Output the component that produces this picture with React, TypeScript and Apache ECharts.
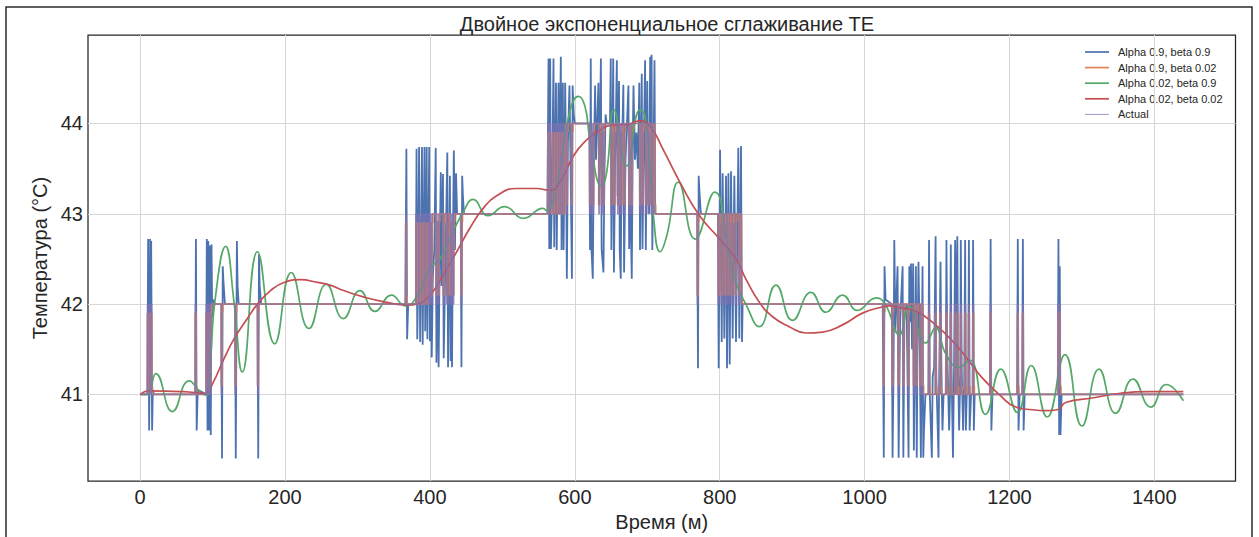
import React, { useEffect, useRef } from "react";
import * as echarts from "echarts";

const FONT = "'Liberation Sans', Arial, Helvetica, sans-serif";
const TEXT = "#262626";

const TITLE = "Двойное экспоненциальное сглаживание TE";
const X_NAME = "Время (м)";
const Y_NAME = "Температура (°C)";
const X_TICKS = [0, 200, 400, 600, 800, 1000, 1200, 1400];
const Y_TICKS = [41, 42, 43, 44];
const SERIES_NAMES = [
  "Alpha 0.9, beta 0.9",
  "Alpha 0.9, beta 0.02",
  "Alpha 0.02, beta 0.9",
  "Alpha 0.02, beta 0.02",
  "Actual",
];
const COLORS = ["#4c72b0", "#dd8452", "#55a868", "#c44e52", "#8172b3"];

// Alpha 0.9, beta 0.9 (spikes of the forecast)
const blueSeries: [number, number][] = [
  [0, 41], [10, 41], [11, 42.72], [12.4, 40.6], [13.2, 41.3], [13.8, 42.72], [14.5, 41.6], [15.2, 42.7], [16.5, 40.6], [17.5, 41.05], [19, 41],
  [76, 41], [77, 42.72], [78, 40.6], [79.5, 41.05], [91, 41], [92, 42.72], [93, 40.6], [94, 42.7], [95, 40.6], [96, 42.65], [97.5, 40.55], [98.5, 42.66], [99.5, 41.85], [101, 42.05], [103, 42],
  [112, 42], [113, 40.29], [114, 42.42], [115, 42.25], [117, 42], [131, 42], [132, 40.29], [133.5, 42.7], [134.5, 42.2], [136, 42], [162, 42], [163, 40.29], [164, 42.55], [165, 42.2], [167, 42],
  [366, 42], [367.5, 43.72], [368.5, 41.61], [370, 42], [380.5, 42], [381.5, 43.72], [382.5, 41.61], [383.5, 42.1], [385, 43.74], [386.5, 41.58], [387.5, 42.3], [389, 43.74], [390, 41.55], [391, 42.5], [392.5, 43.74], [393.5, 41.7], [394.5, 42.6], [395.5, 43.74], [396.5, 41.61], [397.5, 42.4], [399, 43.74], [400, 41.59], [401, 42.6], [402.5, 41.41], [404, 42.3], [406, 42.6], [408, 43.73], [409, 41.35], [410.5, 42.5], [412, 41.3], [413.5, 42.6], [415, 43.46], [416, 42.2], [418, 43.44], [419, 41.4], [421, 42.3], [424, 43.68], [425, 41.3], [426.5, 42.5], [427.6, 43.42], [428.5, 41.37], [429.5, 42.4], [430.5, 41.3], [431.5, 42.5], [433, 43.7], [434.5, 42.6], [436, 43.45], [437.5, 43.0], [442.5, 43.0], [443.5, 41.3], [444.5, 43.42], [445.5, 43.2], [447, 43],
  [562, 43], [563.7, 44.72], [564.7, 42.61], [566, 44.72], [567, 42.61], [568.5, 43.2], [570.6, 44.72], [571.6, 42.63], [574, 44.45], [575, 42.6], [577.5, 44.45], [578.5, 43.3], [580.7, 44.74], [581.7, 42.6], [583.5, 44.45], [584.5, 42.6], [586.7, 44.45], [588, 43.5], [589, 42.28], [590.5, 43.8], [592.6, 44.42], [594, 43.6], [596, 42.28], [597, 44.42], [598.5, 44.1], [600, 44],
  [620, 44], [621, 42.6], [622, 44.72], [623, 42.61], [624.8, 42.28], [626, 43.5], [628, 44.42], [629.2, 43.6], [632.6, 44.45], [633.5, 43.2], [636, 44.72], [637, 42.61], [639.5, 42.35], [641, 43.5], [642.5, 44.1], [644, 44],
  [648.5, 44], [649.6, 44.72], [650.5, 42.6], [653, 44.72], [654, 42.35], [655.5, 43.5], [658, 44.7], [659, 43.2], [661, 44.47], [662, 42.6], [663.4, 42.28], [664.5, 43.5], [667, 44.43], [668, 42.35], [670, 43.6], [672, 44.0], [674, 44.42], [675, 42.61], [676.5, 43.3], [678.6, 42.28], [680, 43.8], [681, 44.42], [683, 43.6], [685, 43.9], [687, 43.5], [689, 44.45], [690, 42.6], [692.4, 44.55], [693.4, 42.61], [695, 43.6], [697, 44.7], [698, 42.6], [700, 44.47], [701, 43.4], [702.5, 43.0], [704, 44.74], [705, 43.2], [706, 44.76], [707, 42.6], [708.5, 43.5], [710, 44.7], [711, 43.0], [713, 43],
  [769, 43], [770, 41.29], [771, 43.42], [772, 43.25], [774, 43],
  [797.5, 43], [798.6, 41.29], [800.5, 43.71], [802.8, 41.58], [804.1, 43.45], [806.4, 41.62], [808.7, 43.42], [810.1, 41.29], [812, 43.45], [813.8, 41.33], [815.6, 43.47], [817.9, 41.62], [820.2, 43.42], [822.5, 41.58], [825.7, 43.73], [827.1, 41.62], [829.4, 43.75], [830.8, 41.58], [831.7, 42.0], [833, 42],
  [1025, 42], [1026.5, 40.3], [1027.5, 42.42], [1029, 42.05], [1037.5, 42], [1038.6, 40.3], [1040, 41.3], [1041, 42.71], [1042.5, 41.7], [1045.5, 42.42], [1047, 40.3], [1049, 41.8], [1052.5, 42.42], [1053.5, 40.3], [1055, 41.9], [1058, 42], [1060.7, 40.3], [1061.7, 42.42], [1063, 41.8], [1064, 42.45], [1065.5, 41.5], [1067, 42.45], [1068, 40.38], [1069.5, 41.5], [1070.8, 42.42], [1072, 40.3], [1073, 41.5], [1074.4, 42.47], [1076, 41.6], [1077.7, 40.3], [1079, 41.5], [1080, 42.42], [1081, 40.3], [1082, 40.6], [1084, 41.0],
  [1088, 41], [1089, 42.71], [1090, 41.0], [1092.8, 40.3], [1094, 41.2], [1096, 41.3], [1098, 42.75], [1099, 41.2], [1102, 40.3], [1103, 41.2], [1104.8, 42.47], [1106, 41.3], [1107.5, 40.6], [1109, 41], [1112, 41], [1113, 42.71], [1114, 41.5], [1116.7, 40.6], [1118, 41.0], [1119, 42.66], [1120, 41.3], [1122, 40.3], [1123.5, 41.3], [1125, 42.71], [1126, 41.5], [1128, 42.75], [1129, 41.3], [1130.5, 40.6], [1132, 41.2], [1132.8, 42.71], [1134, 41.3], [1136, 40.6], [1137.5, 41.1], [1138.8, 42.71], [1139.8, 40.6], [1141, 41], [1143, 41], [1144, 42.71], [1145, 40.6], [1147, 41], [1149, 41], [1149.8, 42.71], [1150.8, 40.6], [1152, 41.0],
  [1173, 41], [1174, 42.72], [1175, 40.6], [1176.5, 41], [1210.5, 41], [1211.5, 42.72], [1212.5, 40.6], [1214, 41], [1217.5, 41], [1218.5, 42.72], [1219.5, 40.6], [1221, 41],
  [1266.6, 41], [1267.6, 42.72], [1268.6, 40.55], [1269.4, 42.42], [1270.4, 40.55], [1272, 41], [1440, 41],
];

// Alpha 0.9, beta 0.02 (step points: value holds until the next time)
const orangeSteps: [number, number][] = [
  [0, 41], [10, 41.9], [11, 41.09], [12, 41], [13, 41.9], [14, 41.09], [15, 41.9], [16, 41.09], [17, 41],
  [76, 41.9], [77, 41.09], [78, 41], [91, 41.9], [92, 41.09], [93, 41.9], [94, 41.09], [95, 41.9], [96.5, 41.09], [97.5, 41.9], [98.5, 42],
  [112, 41.1], [113, 41.91], [114, 42], [131, 41.1], [132, 41.91], [133, 42], [162, 41.1], [163, 41.91], [164, 42],
  [366.5, 42.9], [367.5, 42.09], [368.5, 42], [380.5, 42.9], [381.5, 42.09], [382.5, 42], [384, 42.9], [385.5, 42.09], [386.5, 42], [388, 42.9], [389, 42.09], [390, 42], [391.5, 42.9], [392.5, 42.09], [393.5, 42], [394.5, 42.9], [395.5, 42.09], [396.5, 42], [398, 42.9], [399, 42.09], [400.5, 42.9], [402, 42.09], [403, 42.9], [404, 43], [408.5, 42.1], [409.5, 42.91], [411.5, 42.1], [412.5, 42.91], [413.5, 43], [418.5, 42.1], [419.5, 42.91], [420.5, 43], [423, 42.1], [424, 42.91], [424.5, 42.1], [425.5, 42.91], [426.5, 43], [428, 42.1], [429, 42.91], [430, 42.1], [431, 42.91], [432, 42.1], [433, 42.91], [434, 43], [443, 42.1], [444, 42.91], [445, 43],
  [563, 43.9], [564, 43.09], [565.5, 43.9], [566.5, 43.09], [567.5, 43], [570, 43.9], [571, 43.09], [572, 43], [573.5, 43.9], [574.5, 43.09], [575.5, 43], [577, 43.9], [578, 43.09], [579, 43], [580, 43.9], [581, 43.09], [582, 43], [583, 43.9], [584, 43.09], [585, 43], [586, 43.9], [587, 44], [588.5, 43.1], [589.5, 43.91], [590.5, 44], [595.5, 43.1], [596.5, 43.91], [597.5, 44],
  [620.5, 43.1], [621.5, 43.91], [623, 43.1], [624, 43.91], [625, 43.1], [626, 43.91], [627, 44], [633, 43.1], [634, 43.91], [635, 44], [637, 43.1], [638, 43.91], [639, 43.1], [640, 43.91], [641, 44], [650, 43.1], [651, 43.91], [652, 44], [654, 43.1], [655, 43.91], [656, 44], [659, 43.1], [660, 43.91], [661, 44], [662, 43.1], [663, 43.91], [664, 43.1], [665, 43.91], [666, 44], [668, 43.1], [669, 43.91], [670, 44], [675, 43.1], [676, 43.91], [677, 44], [678, 43.1], [679, 43.91], [680, 44], [690, 43.1], [691, 43.91], [692, 44], [693, 43.1], [694, 43.91], [695, 44], [698, 43.1], [699, 43.91], [700, 44], [701, 43.1], [702, 43.91], [703, 44], [705, 43.1], [706, 43.91], [707, 43.1], [708, 43.91], [709, 44], [710.5, 43.1], [711.5, 43],
  [769, 42.1], [770, 42.91], [771, 43],
  [798, 42.1], [799, 42.91], [800, 43], [802, 42.1], [803, 42.91], [804, 43], [806, 42.1], [807, 42.91], [808, 43], [809.5, 42.1], [810.5, 42.91], [811.5, 43], [813, 42.1], [814, 42.91], [815, 43], [817, 42.1], [818, 42.91], [819, 43], [821.5, 42.1], [822.5, 42.91], [823.5, 43], [826.5, 42.1], [827.5, 42.91], [828.5, 43], [830, 42.1], [831, 42],
  [1026, 41.1], [1027, 41.91], [1028, 42], [1038, 41.1], [1039, 41.91], [1040, 42], [1046.5, 41.1], [1047.5, 41.91], [1048.5, 42], [1053, 41.1], [1054, 41.91], [1055, 42], [1060, 41.1], [1061, 41.91], [1062, 42], [1067.5, 41.1], [1068.5, 41.91], [1069.5, 42], [1071.5, 41.1], [1072.5, 41.91], [1073.5, 42], [1077, 41.1], [1078, 41.91], [1079, 42], [1080.5, 41.1], [1081.5, 41],
  [1088.5, 41.9], [1089.5, 41.09], [1090.5, 41], [1097.5, 41.9], [1098.5, 41.09], [1099.5, 41], [1104, 41.9], [1105, 41.09], [1106, 41], [1112.5, 41.9], [1113.5, 41.09], [1114.5, 41], [1118.5, 41.9], [1119.5, 41.09], [1120.5, 41], [1124.5, 41.9], [1125.5, 41.09], [1126.5, 41], [1127.5, 41.9], [1128.5, 41.09], [1129.5, 41], [1132.5, 41.9], [1133.5, 41.09], [1134.5, 41], [1138.5, 41.9], [1139.5, 41.09], [1140.5, 41], [1143.5, 41.9], [1144.5, 41.09], [1145.5, 41], [1149.5, 41.9], [1150.5, 41.09], [1151.5, 41], [1173.5, 41.9], [1174.5, 41.09], [1175.5, 41], [1211, 41.9], [1212, 41.09], [1213, 41], [1218, 41.9], [1219, 41.09], [1220, 41], [1267, 41.9], [1268, 41.09], [1269, 41.9], [1270, 41.09], [1271, 41],
  [1440, 41],
];

// Alpha 0.02, beta 0.9 (extremes and crossings)
const greenPts: [number, number][] = [
  [0, 41], [10, 41], [21.6, 41.23], [44.6, 40.81], [67.6, 41.15], [83.6, 41.02], [92, 40.99], [97.4, 41.4], [103, 42.02], [118, 42.64], [129.6, 42.02], [141, 41.25], [161.8, 42.58], [185.7, 41.56], [208.6, 42.35], [233, 41.73], [257, 42.22], [280.5, 41.84], [303.5, 42.15], [324, 41.92], [347, 42.1], [366, 41.98], [381.6, 42.08], [400, 42.4], [414, 42.5], [427.6, 42.73], [446, 43.02], [459.7, 43.16], [480, 42.98], [503, 43.08], [529, 42.95], [556, 43.06], [562, 43.03], [570.6, 43.16], [580, 43.53], [593.6, 44.15], [605, 44.3], [614, 44.19], [621, 43.82], [637, 43.31], [644, 43.46], [654, 44.15], [671.7, 43.53], [690, 44.15], [697, 44.08], [704, 43.53], [708.5, 42.98], [717.6, 42.58], [727, 42.76], [743, 43.35], [766, 42.72], [793, 43.24], [813, 42.54], [822.5, 42.24], [836, 42.0], [854.7, 41.75], [877.7, 42.21], [900.6, 41.82], [926, 42.13], [946.6, 41.91], [969.6, 42.1], [990, 41.93], [1016, 42.07], [1029, 41.99], [1048, 41.66], [1061.6, 41.97], [1084.6, 41.57], [1098, 41.74], [1112, 41.45], [1130, 41.3], [1145, 41.38], [1167, 40.78], [1188, 41.28], [1211, 40.8], [1230, 41.32], [1252, 40.75], [1276.7, 41.44], [1300, 40.65], [1323.6, 41.28], [1346.6, 40.79], [1370.5, 41.17], [1395, 40.86], [1416.5, 41.11], [1440, 40.93],
];

// Alpha 0.02, beta 0.02
const redPts: [number, number][] = [
  [0, 41], [12, 41.04], [60, 41.03], [90, 41.01], [100, 41.12], [116, 41.4], [130, 41.62], [148, 41.84], [162, 42.0], [180, 42.15], [198.5, 42.24], [221.5, 42.27], [244.5, 42.24], [262, 42.21], [281, 42.15], [308, 42.08], [340, 42.02], [368, 41.99], [381.6, 42.0], [400, 42.1], [418, 42.32], [437, 42.58], [455, 42.84], [473.5, 43.06], [492, 43.2], [519.5, 43.28], [547, 43.28], [566, 43.26], [580, 43.36], [598, 43.64], [616.5, 43.82], [630, 43.9], [648.7, 43.98], [671.7, 43.99], [690, 44.03], [704, 43.97], [722, 43.71], [745, 43.35], [772, 42.98], [800, 42.72], [822.5, 42.5], [836, 42.28], [854.7, 42.02], [873, 41.86], [896, 41.75], [919, 41.68], [942, 41.69], [969.6, 41.77], [997, 41.9], [1020, 41.96], [1035, 41.98], [1048, 41.96], [1071, 41.92], [1098, 41.77], [1126, 41.55], [1144, 41.37], [1162.7, 41.18], [1185.7, 41.0], [1208.6, 40.86], [1231.6, 40.83], [1250, 40.82], [1266, 40.83], [1277.7, 40.91], [1314.4, 40.96], [1351, 41.01], [1392.6, 41.03], [1440, 41.03],
];

// Actual (step points)
const actualSteps: [number, number][] = [
  [0, 41], [10, 42], [11, 41], [13, 42], [14, 41], [15, 42], [16, 41],
  [76, 42], [77, 41], [91, 42], [92, 41], [93, 42], [94, 41], [95, 42], [96.5, 41], [97.5, 42],
  [112, 41], [113, 42], [131, 41], [132, 42], [162, 41], [163, 42],
  [366.5, 43], [367.5, 42], [380.5, 43], [381.5, 42], [384, 43], [385.5, 42], [388, 43], [389, 42], [391.5, 43], [392.5, 42], [394.5, 43], [395.5, 42], [398, 43], [399, 42], [400.5, 43], [402, 42], [403, 43], [408.5, 42], [409.5, 43], [411.5, 42], [412.5, 43], [418.5, 42], [419.5, 43], [423, 42], [424, 43], [424.5, 42], [425.5, 43], [428, 42], [429, 43], [430, 42], [431, 43], [432, 42], [433, 43], [443, 42], [444, 43],
  [563, 44], [564, 43], [565.5, 44], [566.5, 43], [570, 44], [571, 43], [573.5, 44], [574.5, 43], [577, 44], [578, 43], [580, 44], [581, 43], [583, 44], [584, 43], [586, 44], [588.5, 43], [589.5, 44], [595.5, 43], [596.5, 44],
  [620.5, 43], [621.5, 44], [623, 43], [624, 44], [625, 43], [626, 44], [633, 43], [634, 44], [637, 43], [638, 44], [639, 43], [640, 44], [650, 43], [651, 44], [654, 43], [655, 44], [659, 43], [660, 44], [662, 43], [663, 44], [664, 43], [665, 44], [668, 43], [669, 44], [675, 43], [676, 44], [678, 43], [679, 44], [690, 43], [691, 44], [693, 43], [694, 44], [698, 43], [699, 44], [701, 43], [702, 44], [705, 43], [706, 44], [707, 43], [708, 44], [710.5, 43],
  [769, 42], [770, 43],
  [798, 42], [799, 43], [802, 42], [803, 43], [806, 42], [807, 43], [809.5, 42], [810.5, 43], [813, 42], [814, 43], [817, 42], [818, 43], [821.5, 42], [822.5, 43], [826.5, 42], [827.5, 43], [830, 42],
  [1026, 41], [1027, 42], [1038, 41], [1039, 42], [1046.5, 41], [1047.5, 42], [1053, 41], [1054, 42], [1060, 41], [1061, 42], [1067.5, 41], [1068.5, 42], [1071.5, 41], [1072.5, 42], [1077, 41], [1078, 42], [1080.5, 41],
  [1088.5, 42], [1089.5, 41], [1097.5, 42], [1098.5, 41], [1104, 42], [1105, 41], [1112.5, 42], [1113.5, 41], [1118.5, 42], [1119.5, 41], [1124.5, 42], [1125.5, 41], [1127.5, 42], [1128.5, 41], [1132.5, 42], [1133.5, 41], [1138.5, 42], [1139.5, 41], [1143.5, 42], [1144.5, 41], [1149.5, 42], [1150.5, 41], [1173.5, 42], [1174.5, 41], [1211, 42], [1212, 41], [1218, 42], [1219, 41], [1267, 42], [1268, 41], [1269, 42], [1270, 41],
  [1440, 41],
];

export default function App() {
  const ref = useRef<HTMLDivElement>(null);

  useEffect(() => {
    if (!ref.current) return;
    const chart = echarts.init(ref.current, null, { renderer: "svg" });

    const line = (name: string, data: [number, number][], color: string, width: number, extra: any = {}) => ({
      name,
      type: "line",
      data,
      symbol: "none",
      showSymbol: false,
      silent: true,
      animation: false,
      lineStyle: { color, width, ...(extra.lineStyle || {}) },
      itemStyle: { color },
      emphasis: { disabled: true },
      ...extra.rest,
    });

    const legendY0 = 52;
    const legendStep = 15.6;
    const legendGraphics: any[] = [];
    SERIES_NAMES.forEach((n, i) => {
      const y = legendY0 + i * legendStep;
      legendGraphics.push({
        type: "line",
        silent: true,
        shape: { x1: 1085, y1: y, x2: 1109, y2: y },
        style: { stroke: COLORS[i], lineWidth: i === 4 ? 1 : 1.7, opacity: i === 4 ? 0.75 : 1 },
      });
      legendGraphics.push({
        type: "text",
        silent: true,
        style: {
          x: 1118,
          y,
          text: n,
          fontSize: 11,
          fontFamily: FONT,
          fill: TEXT,
          textAlign: "left",
          align: "left",
          textVerticalAlign: "middle",
          verticalAlign: "middle",
        },
      });
    });

    const plain = (v: number) => String(v);

    const option: any = {
      animation: false,
      backgroundColor: "#ffffff",
      title: {
        text: TITLE,
        left: 662,
        top: 9,
        textAlign: "center",
        textStyle: { fontSize: 20, fontWeight: "normal", color: TEXT, fontFamily: FONT },
      },
      grid: {
        left: 88,
        right: 23.5,
        top: 35,
        bottom: 53,
        show: true,
        borderColor: "#262626",
        borderWidth: 1.25,
        backgroundColor: "transparent",
      },
      xAxis: {
        type: "value",
        min: -72,
        max: 1512,
        name: X_NAME,
        nameLocation: "middle",
        nameGap: 27,
        nameTextStyle: { fontSize: 20, color: TEXT, fontFamily: FONT },
        axisLine: { show: false },
        axisTick: { show: false, customValues: X_TICKS },
        axisLabel: { customValues: X_TICKS, formatter: plain, fontSize: 20, color: TEXT, fontFamily: FONT, margin: 6 },
        splitLine: { show: true, lineStyle: { color: "#d6d6d6", width: 1 } },
      },
      yAxis: {
        type: "value",
        min: 40.04,
        max: 44.98,
        name: Y_NAME,
        nameLocation: "middle",
        nameGap: 26,
        nameRotate: 90,
        nameTextStyle: { fontSize: 20, color: TEXT, fontFamily: FONT },
        axisLine: { show: false },
        axisTick: { show: false, customValues: Y_TICKS },
        axisLabel: { customValues: Y_TICKS, formatter: plain, fontSize: 20, color: TEXT, fontFamily: FONT, margin: 5 },
        splitLine: { show: true, lineStyle: { color: "#d6d6d6", width: 1 } },
      },
      series: [
        line(SERIES_NAMES[0], blueSeries, COLORS[0], 1.8),
        line(SERIES_NAMES[1], orangeSteps, COLORS[1], 1.7, { rest: { step: "end" } }),
        line(SERIES_NAMES[2], greenPts, COLORS[2], 1.7, { rest: { smooth: 0.5 } }),
        line(SERIES_NAMES[3], redPts, COLORS[3], 1.7, { rest: { smooth: 0.5 } }),
        line(SERIES_NAMES[4], actualSteps, COLORS[4], 1.2, { lineStyle: { opacity: 0.8 }, rest: { step: "end" } }),
      ],
      graphic: [
        {
          type: "rect",
          silent: true,
          shape: { x: 6, y: 7, width: 1246, height: 545 },
          style: { fill: "none", stroke: "#2b2b2b", lineWidth: 1.5 },
        },
        ...legendGraphics,
      ],
    };

    chart.setOption(option);
    return () => chart.dispose();
  }, []);

  return (
    <div
      ref={ref}
      style={{ position: "absolute", left: 0, top: 0, width: 1259, height: 537, background: "#fff" }}
    />
  );
}
